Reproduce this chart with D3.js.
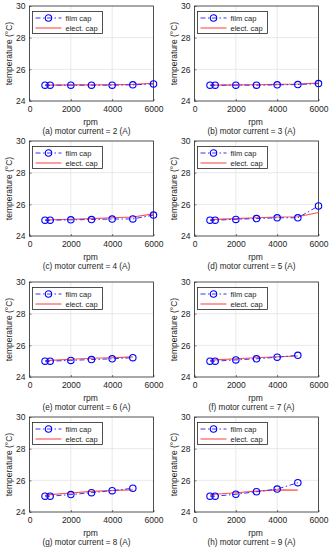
<!DOCTYPE html>
<html>
<head>
<meta charset="utf-8">
<script src="https://cdn.jsdelivr.net/npm/d3@7"></script>
<style>
  body { margin: 0; background: #fff; }
  text { font-family: "Liberation Sans", Arial, sans-serif; fill: #1e1e1e; }
  .grid line { stroke: #e3e3e3; stroke-width: 0.8; }
</style>
</head>
<body>
<div id="chart"></div>
<script>
// rpm points (film cap / elect. cap share the same speeds)
var rpmLong = [750, 1000, 2000, 3000, 4000, 5000, 6000];
var rpmShort = [750, 1000, 2000, 3000, 4000, 5000];

var captions = [
    "(a) motor current = 2 (A)", "(b) motor current = 3 (A)",
    "(c) motor current = 4 (A)", "(d) motor current = 5 (A)",
    "(e) motor current = 6 (A)", "(f) motor current = 7 (A)",
    "(g) motor current = 8 (A)", "(h) motor current = 9 (A)"
];

var filmA = [25.0, 25.0, 25.0, 25.0, 25.0, 25.02, 25.08];
var electA = [25.0, 25.0, 25.02, 25.02, 25.03, 25.05, 25.12];
var filmB = [25.0, 25.0, 25.0, 25.0, 25.02, 25.04, 25.1];
var electB = [25.0, 25.0, 25.02, 25.03, 25.05, 25.07, 25.13];
var filmC = [25.0, 25.0, 25.02, 25.04, 25.07, 25.08, 25.32];
var electC = [25.0, 25.02, 25.06, 25.1, 25.15, 25.2, 25.4];
var filmD = [25.0, 25.0, 25.05, 25.1, 25.15, 25.15, 25.9];
var electD = [25.0, 25.05, 25.1, 25.15, 25.2, 25.22, 25.48];
var filmE = [25.0, 25.0, 25.05, 25.1, 25.15, 25.22];
var electE = [25.02, 25.05, 25.12, 25.18, 25.22, 25.27];
var filmF = [25.0, 25.0, 25.08, 25.15, 25.25, 25.37];
var electF = [25.05, 25.08, 25.15, 25.22, 25.28, 25.33];
var filmG = [25.0, 25.0, 25.1, 25.22, 25.35, 25.5];
var electG = [25.05, 25.1, 25.2, 25.3, 25.36, 25.4];
var filmH = [25.0, 25.0, 25.12, 25.28, 25.45, 25.85];
var electH = [25.08, 25.12, 25.22, 25.32, 25.4, 25.38];

var xTicks = [0, 2000, 4000, 6000];
var yTicks = [24, 26, 28, 30];
var legendLabels = ["film cap", "elect. cap"];

var panels = [
    {rpm: rpmLong, film: filmA, elect: electA},
    {rpm: rpmLong, film: filmB, elect: electB},
    {rpm: rpmLong, film: filmC, elect: electC},
    {rpm: rpmLong, film: filmD, elect: electD},
    {rpm: rpmShort, film: filmE, elect: electE},
    {rpm: rpmShort, film: filmF, elect: electF},
    {rpm: rpmShort, film: filmG, elect: electG},
    {rpm: rpmShort, film: filmH, elect: electH}
];

// layout of the 2x4 grid
var colLeft = [29.5, 194.5];
var rowTop = [6, 141, 282, 417];
var plotW = 124;
var plotH = 95;

var svg = d3.select("#chart").append("svg")
    .attr("width", 334)
    .attr("height", 550);

panels.forEach(function(p, i) {
    var g = svg.append("g")
        .attr("transform", "translate(" + colLeft[i % 2] + "," + rowTop[Math.floor(i / 2)] + ")");

    var x = d3.scaleLinear().domain([0, 6000]).range([0, plotW]);
    var y = d3.scaleLinear().domain([24, 30]).range([plotH, 0]);

    // grid
    var grid = g.append("g").attr("class", "grid");
    grid.selectAll(".gx").data(xTicks.slice(1, -1)).enter().append("line")
        .attr("x1", function(d) { return x(d); }).attr("x2", function(d) { return x(d); })
        .attr("y1", 0).attr("y2", plotH);
    grid.selectAll(".gy").data(yTicks.slice(1, -1)).enter().append("line")
        .attr("y1", function(d) { return y(d); }).attr("y2", function(d) { return y(d); })
        .attr("x1", 0).attr("x2", plotW);

    // axes (ticks inside, matlab style)
    var xAxis = g.append("g").attr("transform", "translate(0," + plotH + ")")
        .call(d3.axisBottom(x).tickValues(xTicks).tickFormat(d3.format("d"))
            .tickSizeInner(-2).tickSizeOuter(0).tickPadding(5));
    var yAxis = g.append("g")
        .call(d3.axisLeft(y).tickValues(yTicks).tickFormat(d3.format("d"))
            .tickSizeInner(-2).tickSizeOuter(0).tickPadding(4));
    [xAxis, yAxis].forEach(function(a) {
        a.select(".domain").remove();
        a.selectAll("line").attr("stroke", "#262626").attr("stroke-width", 0.6);
        a.selectAll("text").style("font-size", "8.5px").attr("fill", "#1e1e1e");
    });

    g.append("rect")
        .attr("width", plotW).attr("height", plotH)
        .attr("fill", "none").attr("stroke", "#262626").attr("stroke-width", 0.8);

    // elect. cap line
    var line = d3.line()
        .x(function(d) { return x(d[0]); })
        .y(function(d) { return y(d[1]); });

    g.append("path")
        .datum(d3.zip(p.rpm, p.elect))
        .attr("d", line)
        .attr("fill", "none")
        .attr("stroke", "#ff4d4d")
        .attr("stroke-width", 1.1);

    // film cap line + markers
    g.append("path")
        .datum(d3.zip(p.rpm, p.film))
        .attr("d", line)
        .attr("fill", "none")
        .attr("stroke", "#3333ff")
        .attr("stroke-width", 1)
        .attr("stroke-dasharray", "5,2.5,1.5,2.5");

    g.selectAll(".mk").data(d3.zip(p.rpm, p.film)).enter().append("circle")
        .attr("cx", function(d) { return x(d[0]); })
        .attr("cy", function(d) { return y(d[1]); })
        .attr("r", 3.2)
        .attr("fill", "none")
        .attr("stroke", "#0000ff")
        .attr("stroke-width", 1.1);

    // legend
    var lg = g.append("g").attr("transform", "translate(3,5.5)");
    lg.append("rect")
        .attr("width", 70).attr("height", 22)
        .attr("fill", "#fff").attr("stroke", "#262626").attr("stroke-width", 0.8);
    lg.append("line").attr("x1", 3).attr("x2", 29).attr("y1", 6.5).attr("y2", 6.5)
        .attr("stroke", "#3333ff").attr("stroke-width", 1).attr("stroke-dasharray", "5,2.5,1.5,2.5");
    lg.append("circle").attr("cx", 16).attr("cy", 6.5).attr("r", 3.2)
        .attr("fill", "none").attr("stroke", "#0000ff").attr("stroke-width", 1.1);
    lg.append("line").attr("x1", 3).attr("x2", 29).attr("y1", 16.5).attr("y2", 16.5)
        .attr("stroke", "#ff4d4d").attr("stroke-width", 1.1);
    lg.selectAll(".lt").data(legendLabels).enter().append("text")
        .attr("x", 33)
        .attr("y", function(d, j) { return 9.2 + j * 10; })
        .style("font-size", "7.5px")
        .text(function(d) { return d; });

    // axis labels
    g.append("text")
        .attr("transform", "translate(-18," + plotH / 2 + ") rotate(-90)")
        .attr("text-anchor", "middle")
        .style("font-size", "8.5px")
        .text("temperature (°C)");
    g.append("text")
        .attr("x", plotW / 2 - 1).attr("y", plotH + 24)
        .attr("text-anchor", "middle")
        .style("font-size", "8.5px")
        .text("rpm");
    g.append("text")
        .attr("x", plotW / 2 - 5).attr("y", plotH + 32.5)
        .attr("text-anchor", "middle")
        .style("font-size", "8.2px")
        .text(captions[i]);
});
</script>
</body>
</html>
